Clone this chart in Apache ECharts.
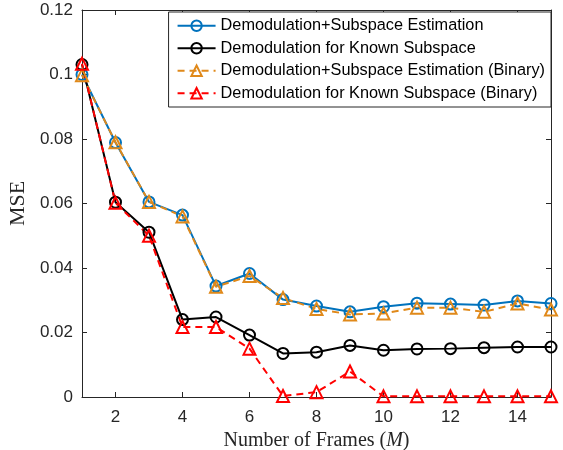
<!DOCTYPE html>
<html><head><meta charset="utf-8">
<script src="https://cdn.jsdelivr.net/npm/echarts@6/dist/echarts.min.js"></script>
<style>html,body{margin:0;padding:0;background:#fff}#c{width:563px;height:450px}</style>
</head><body><div id="c"></div>
<script>
var frames = [1,2,3,4,5,6,7,8,9,10,11,12,13,14,15];
var subspaceEst = [0.1000,0.0789,0.0605,0.0564,0.0344,0.0383,0.0302,0.0282,0.0264,0.0280,0.0291,0.0288,0.0285,0.0298,0.0290];
var knownSub = [0.1031,0.0604,0.0511,0.0240,0.0248,0.0192,0.0135,0.0139,0.0160,0.0145,0.0149,0.0150,0.0153,0.0155,0.0155];
var subspaceEstBin = [0.0998,0.0790,0.0605,0.0560,0.0342,0.0375,0.0307,0.0273,0.0256,0.0259,0.0277,0.0277,0.0264,0.0290,0.0271];
var knownSubBin = [0.1033,0.0602,0.0500,0.0217,0.0217,0.0150,0.0003,0.0015,0.0079,0.0002,0.0002,0.0002,0.0002,0.0002,0.0002];
var xTicks = [2,4,6,8,10,12,14];
var yTicks = [0,0.02,0.04,0.06,0.08,0.1,0.12];
var names = ['Demodulation+Subspace Estimation','Demodulation for Known Subspace','Demodulation+Subspace Estimation (Binary)','Demodulation for Known Subspace (Binary)'];

function pairs(v){ return frames.map(function(f,i){ return [f, v[i]]; }); }
var axisColor = '#262626';
function mk(name, data, color, symbol, dashed){
  return {
    name: name, type: 'line', data: pairs(data), xAxisIndex: 0, yAxisIndex: 0,
    symbol: symbol, symbolSize: symbol === 'circle' ? 11 : 12,
    showAllSymbol: true, animation: false,
    lineStyle: {color: color, width: 2, type: dashed ? [7,5] : 'solid'},
    itemStyle: {color: 'rgba(255,255,255,0)', borderColor: color, borderWidth: 2}
  };
}
var chart = echarts.init(document.getElementById('c'), null, {renderer: 'canvas'});
var tickFont = {fontFamily: 'Liberation Sans, Arial, sans-serif', fontSize: 17, color: '#262626'};
var serif = 'Liberation Serif, Times New Roman, serif';
chart.setOption({
  backgroundColor: '#fff',
  animation: false,
  grid: {left: 82, right: 12, top: 10, bottom: 53, containLabel: false, outerBoundsMode: 'none'},
  legend: {
    data: names, orient: 'vertical', right: 12, top: 12,
    backgroundColor: '#fff', borderColor: '#262626', borderWidth: 1,
    padding: [5, 6, 5, 8], itemGap: 5, itemWidth: 38, itemHeight: 13,
    textStyle: {fontFamily: 'Liberation Sans, Arial, sans-serif', fontSize: 16.3, lineHeight: 17.5, color: '#000'}
  },
  xAxis: [{
    type: 'value', min: 1, max: 15, interval: 1,
    axisLine: {show: true, onZero: false, lineStyle: {color: axisColor, width: 1}},
    axisTick: {show: true, inside: true, length: 5, lineStyle: {color: axisColor},
      customValues: xTicks},
    axisLabel: Object.assign({margin: 12, customValues: xTicks}, tickFont),
    splitLine: {show: false},
    name: '{n|Number of Frames (}{m|M}{n|)}', nameLocation: 'middle', nameGap: 31,
    nameTextStyle: {rich: {
      n: {fontFamily: serif, fontSize: 20, color: '#262626'},
      m: {fontFamily: serif, fontSize: 20, fontStyle: 'italic', color: '#262626'}
    }}
  },{
    type: 'value', min: 1, max: 15, position: 'top',
    axisLine: {show: true, onZero: false, lineStyle: {color: axisColor, width: 1}},
    axisTick: {show: true, inside: true, length: 5, lineStyle: {color: axisColor}, customValues: xTicks},
    axisLabel: {show: false}, splitLine: {show: false}
  }],
  yAxis: [{
    type: 'value', min: 0, max: 0.12, interval: 0.02,
    axisLine: {show: true, onZero: false, lineStyle: {color: axisColor, width: 1}},
    axisTick: {show: true, inside: true, length: 5, lineStyle: {color: axisColor}},
    axisLabel: Object.assign({margin: 9, formatter: function(v){ return v === 0 ? '0' : String(Math.round(v*100)/100); }}, tickFont),
    splitLine: {show: false},
    name: 'MSE', nameLocation: 'middle', nameGap: 49,
    nameTextStyle: {fontFamily: serif, fontSize: 22, color: '#262626'}
  },{
    type: 'value', min: 0, max: 0.12, interval: 0.02, position: 'right',
    axisLine: {show: true, onZero: false, lineStyle: {color: axisColor, width: 1}},
    axisTick: {show: true, inside: true, length: 5, lineStyle: {color: axisColor}},
    axisLabel: {show: false}, splitLine: {show: false}
  }],
  series: [
    mk(names[0], subspaceEst, '#0072BD', 'circle', false),
    mk(names[1], knownSub, '#000000', 'circle', false),
    mk(names[2], subspaceEstBin, '#E0891A', 'triangle', true),
    mk(names[3], knownSubBin, '#FF0000', 'triangle', true)
  ]
});
</script></body></html>
